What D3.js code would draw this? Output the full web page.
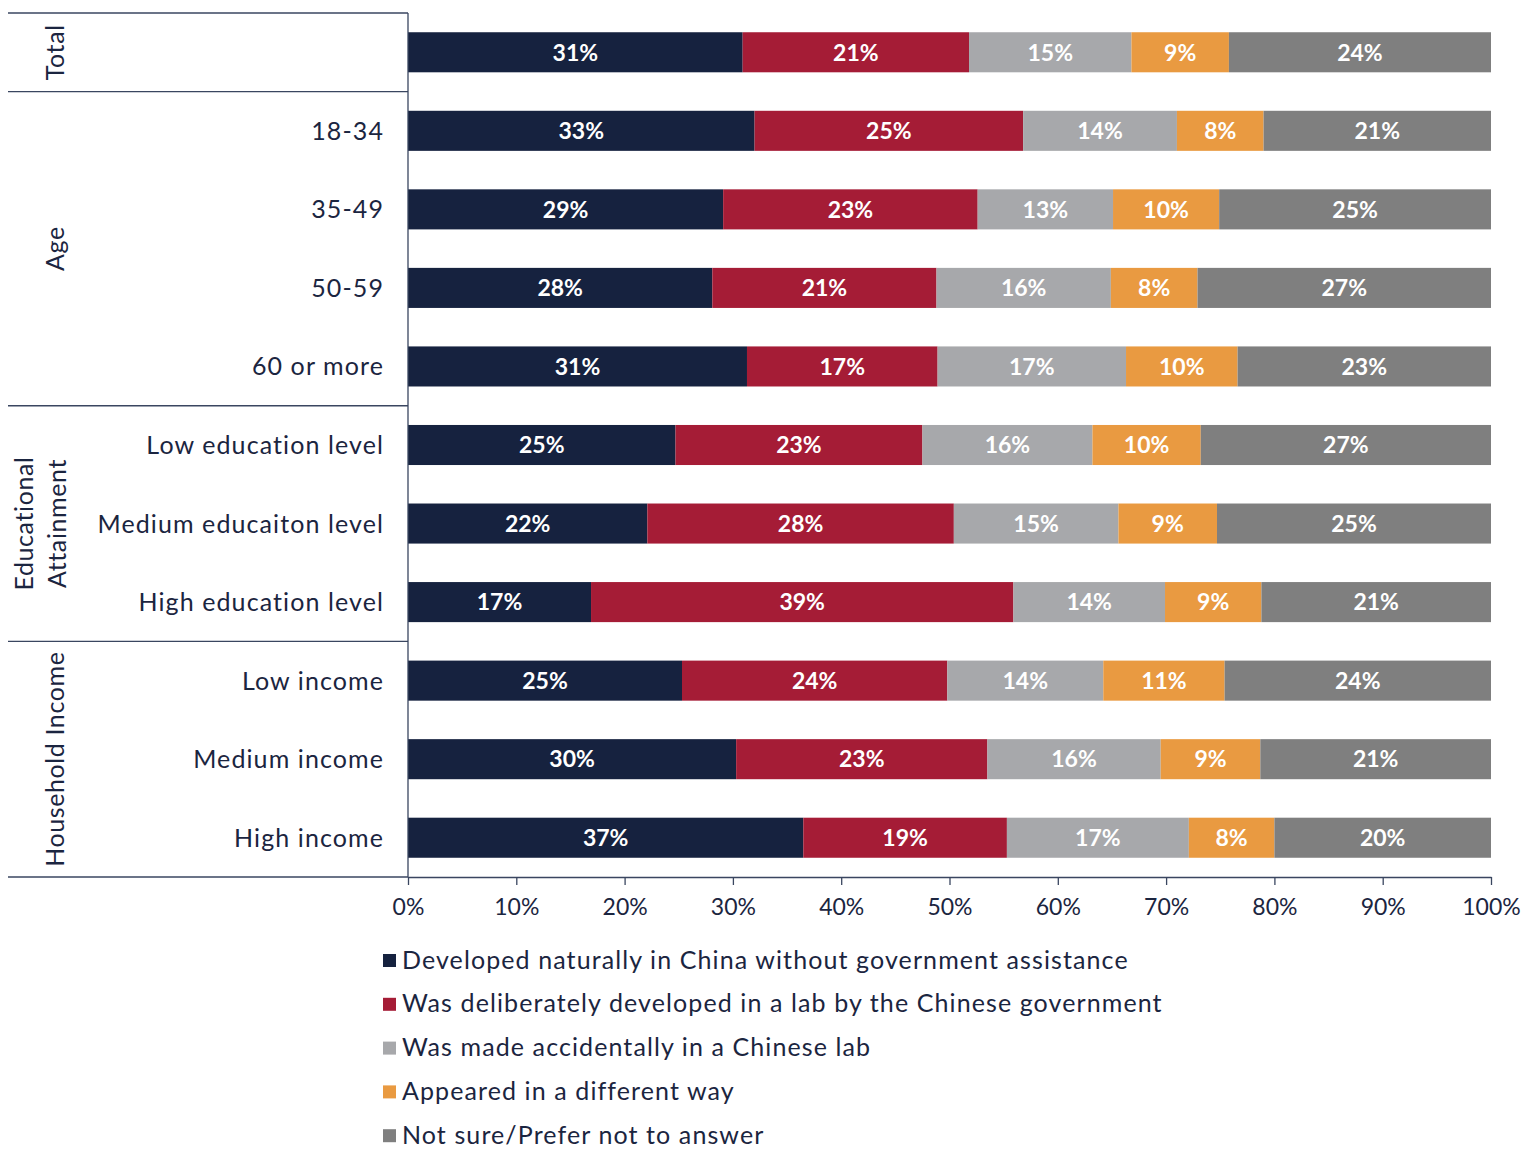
<!DOCTYPE html>
<html>
<head>
<meta charset="utf-8">
<script src="https://cdn.jsdelivr.net/npm/d3@7"></script>
<style>
  body { margin: 0; background: #fff; }
  svg text { font-family: Lato, "Open Sans", sans-serif; }
</style>
</head>
<body>
<svg id="chart" width="1534" height="1149"></svg>
<script>
// rows, top to bottom
const categories = ["Total", "18-34", "35-49", "50-59", "60 or more",
  "Low education level", "Medium educaiton level", "High education level",
  "Low income", "Medium income", "High income"];

const groupNames = [["Total"], ["Age"], ["Educational", "Attainment"], ["Household Income"]];
const groupSizes = [1, 4, 3, 3];

const seriesNames = [
  "Developed naturally in China without government assistance",
  "Was deliberately developed in a lab by the Chinese government",
  "Was made accidentally in a Chinese lab",
  "Appeared in a different way",
  "Not sure/Prefer not to answer"
];
const seriesColors = ["#16223f", "#a51c36", "#a7a8ab", "#e99a41", "#7f7f7f"];

// segment widths (percent)
const naturally    = [30.9, 32.0, 29.1, 28.1, 31.3, 24.7, 22.1, 16.9, 25.3, 30.3, 36.5];
const deliberately = [20.9, 24.8, 23.5, 20.7, 17.6, 22.8, 28.3, 39.0, 24.5, 23.2, 18.8];
const accidentally = [15.0, 14.2, 12.5, 16.1, 17.4, 15.7, 15.2, 14.0, 14.4, 16.0, 16.8];
const different    = [9.0, 8.0, 9.8, 8.0, 10.3, 10.0, 9.1, 8.9, 11.2, 9.2, 7.9];
const notSure      = [24.2, 21.0, 25.1, 27.1, 23.4, 26.8, 25.3, 21.2, 24.6, 21.3, 20.0];

// the printed labels
const naturallyLbl    = [31, 33, 29, 28, 31, 25, 22, 17, 25, 30, 37];
const deliberatelyLbl = [21, 25, 23, 21, 17, 23, 28, 39, 24, 23, 19];
const accidentallyLbl = [15, 14, 13, 16, 17, 16, 15, 14, 14, 16, 17];
const differentLbl    = [9, 8, 10, 8, 10, 10, 9, 9, 11, 9, 8];
const notSureLbl      = [24, 21, 25, 27, 23, 27, 25, 21, 24, 21, 20];

const xTicks = [0, 10, 20, 30, 40, 50, 60, 70, 80, 90, 100];

const seriesVals = [naturally, deliberately, accidentally, different, notSure];
const seriesLbls = [naturallyLbl, deliberatelyLbl, accidentallyLbl, differentLbl, notSureLbl];

const ink = "#1b2540";
const lineCol = "#3a4660";

const svg = d3.select("#chart");

const xScale = d3.scaleLinear().domain([0, 100]).range([408, 1491]);
const yScale = d3.scaleBand().domain(categories).range([13, 877])
  .paddingInner(0.49).paddingOuter(0.245);
const step = yScale.step();

// stacked data
const rows = categories.map((c, i) => {
  let acc = 0;
  return seriesVals.map((s, k) => {
    const seg = { cat: c, k: k, x0: acc, x1: acc + s[i], label: seriesLbls[k][i] };
    acc += s[i];
    return seg;
  });
});

const bars = svg.append("g");
rows.forEach(r => {
  const g = bars.append("g");
  g.selectAll("rect")
    .data(r)
    .enter()
    .append("rect")
    .attr("x", d => xScale(d.x0))
    .attr("y", d => yScale(d.cat))
    .attr("width", d => xScale(d.x1) - xScale(d.x0))
    .attr("height", yScale.bandwidth())
    .style("fill", d => seriesColors[d.k]);
  g.selectAll("text")
    .data(r)
    .enter()
    .append("text")
    .attr("x", d => (xScale(d.x0) + xScale(d.x1)) / 2)
    .attr("y", d => yScale(d.cat) + yScale.bandwidth() / 2)
    .attr("dy", "0.36em")
    .style("text-anchor", "middle")
    .style("fill", "#fff")
    .style("font-weight", "bold")
    .style("font-size", "23px")
    .text(d => d.label + "%");
});

// row labels
svg.append("g").selectAll("text")
  .data(categories.slice(1))
  .enter()
  .append("text")
  .attr("x", 384)
  .attr("y", d => yScale(d) + yScale.bandwidth() / 2)
  .attr("dy", "0.36em")
  .style("text-anchor", "end")
  .style("fill", ink)
  .style("font-size", "25px")
  .style("letter-spacing", "1.1px")
  .text(d => d);

// group separators and labels
const table = svg.append("g");
let start = 0;
const bounds = [0];
groupSizes.forEach(n => { start += n; bounds.push(start); });
table.selectAll("line.sep")
  .data(bounds)
  .enter()
  .append("line")
  .attr("x1", 8)
  .attr("x2", 408)
  .attr("y1", d => 13 + d * step)
  .attr("y2", d => 13 + d * step)
  .style("stroke", lineCol)
  .style("stroke-width", 1.3);

groupNames.forEach((name, gi) => {
  const cy = 13 + (bounds[gi] + bounds[gi + 1]) / 2 * step;
  const t = table.append("text")
    .attr("transform", `translate(55,${cy}) rotate(-90)`)
    .style("text-anchor", "middle")
    .style("fill", ink)
    .style("font-size", "25px")
    .style("letter-spacing", "0.6px");
  if (name.length === 1) {
    t.append("tspan").attr("x", 0).attr("dy", "0.36em").text(name[0]);
  } else {
    t.append("tspan").attr("x", 0).attr("y", -22).text(name[0]);
    t.append("tspan").attr("x", 0).attr("dy", "1.3em").text(name[1]);
  }
});

// vertical divider
svg.append("line")
  .attr("x1", 408).attr("x2", 408)
  .attr("y1", 13).attr("y2", 877)
  .style("stroke", lineCol)
  .style("stroke-width", 1.3);

// x axis
const xAxis = svg.append("g")
  .attr("transform", "translate(0,877)")
  .call(d3.axisBottom(xScale).tickValues(xTicks).tickSize(8).tickSizeOuter(0).tickFormat(d => d + "%"));
xAxis.select(".domain").style("stroke", lineCol).style("stroke-width", 1.3);
xAxis.selectAll(".tick line").style("stroke", lineCol).style("stroke-width", 1.3);
xAxis.selectAll(".tick text")
  .attr("y", 22)
  .style("fill", ink)
  .style("font-size", "23px")
  .style("font-family", "Lato, sans-serif");

// legend
const legend = svg.append("g");
const li = legend.selectAll("g")
  .data(seriesNames)
  .enter()
  .append("g")
  .attr("transform", (d, i) => `translate(383,${960 + i * 43.8})`);
li.append("rect")
  .attr("x", 0).attr("y", -6)
  .attr("width", 13).attr("height", 13)
  .style("fill", (d, i) => seriesColors[i]);
li.append("text")
  .attr("x", 19)
  .attr("dy", "0.34em")
  .style("fill", ink)
  .style("font-size", "25px")
  .style("letter-spacing", "1.1px")
  .text(d => d);
</script>
</body>
</html>
